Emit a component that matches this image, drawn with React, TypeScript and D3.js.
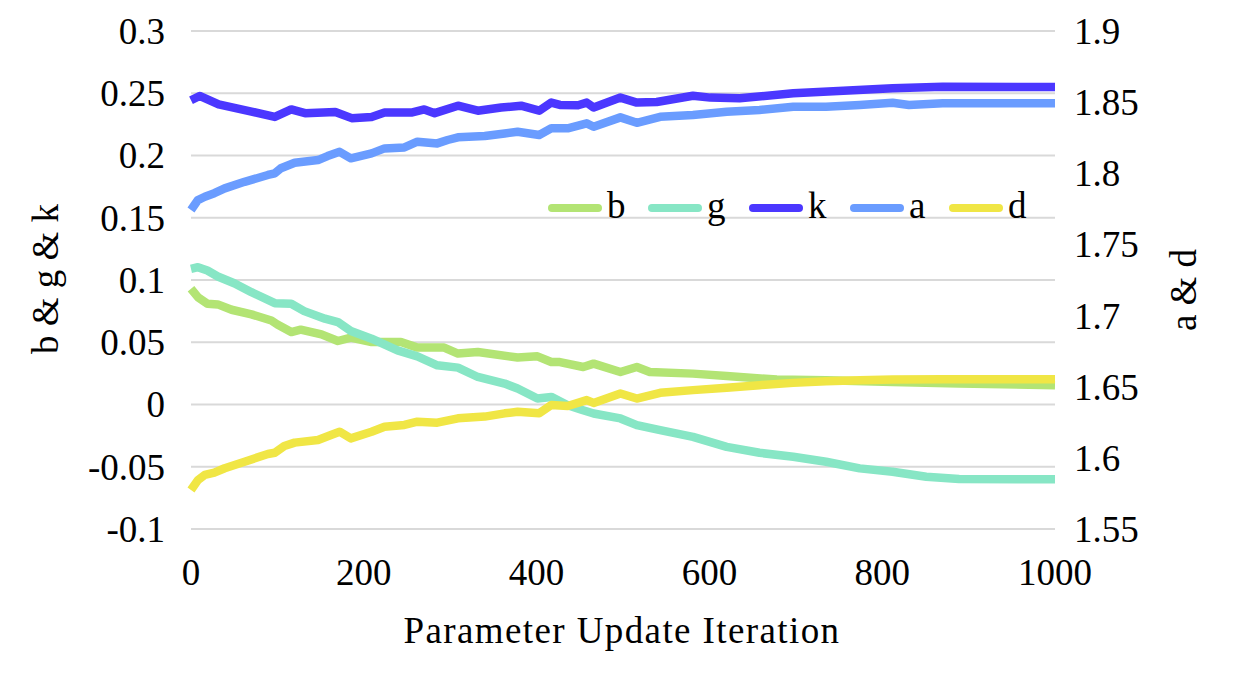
import React from "react";
import * as d3 from "d3";

const xTicks = [0, 200, 400, 600, 800, 1000];
const leftTicks = [0.3, 0.25, 0.2, 0.15, 0.1, 0.05, 0, -0.05, -0.1];
const rightTicks = [1.9, 1.85, 1.8, 1.75, 1.7, 1.65, 1.6, 1.55];

const bData: [number, number][] = [
  [0, 0.093], [8, 0.0862], [19, 0.0809], [31, 0.0804], [47, 0.0761], [70, 0.0724], [93, 0.0675],
  [100, 0.0643], [116, 0.0582], [127, 0.0601], [151, 0.0563], [170, 0.051], [185, 0.0537],
  [209, 0.0502], [243, 0.0502], [262, 0.0457], [293, 0.0457], [309, 0.0409], [332, 0.0421],
  [378, 0.0377], [401, 0.0387], [417, 0.0341], [427, 0.0341], [454, 0.0301], [466, 0.0328],
  [497, 0.0261], [516, 0.0301], [531, 0.0261], [581, 0.0248], [620, 0.0229], [678, 0.02],
  [735, 0.0195], [812, 0.0181], [889, 0.0168], [1000, 0.0155],
];

const gData: [number, number][] = [
  [0, 0.109], [8, 0.1103], [19, 0.1076], [31, 0.1028], [50, 0.0974], [70, 0.0902], [97, 0.0814],
  [116, 0.0809], [131, 0.075], [155, 0.0689], [170, 0.0662], [185, 0.059], [209, 0.0529],
  [239, 0.0435], [262, 0.0387], [285, 0.0315], [309, 0.0296], [332, 0.0221], [363, 0.0168],
  [378, 0.0128], [401, 0.0048], [417, 0.0061], [436, -0.0006], [451, -0.004], [466, -0.0072],
  [497, -0.0112], [516, -0.0166], [543, -0.0206], [581, -0.026], [620, -0.034], [658, -0.0388],
  [697, -0.042], [735, -0.046], [774, -0.0513], [812, -0.054], [851, -0.058], [889, -0.0599],
  [1000, -0.0601],
];

const kData: [number, number][] = [
  [0, 0.2444], [10, 0.2478], [32, 0.241], [70, 0.2353], [97, 0.231], [116, 0.237], [132, 0.234],
  [167, 0.235], [186, 0.23], [209, 0.231], [224, 0.2345], [255, 0.2345], [270, 0.237],
  [282, 0.234], [309, 0.24], [332, 0.236], [359, 0.2385], [382, 0.24], [403, 0.236],
  [417, 0.2425], [427, 0.2406], [448, 0.2404], [458, 0.2425], [466, 0.2385], [497, 0.2465],
  [516, 0.2425], [539, 0.243], [581, 0.248], [601, 0.2465], [635, 0.246], [697, 0.25],
  [755, 0.252], [812, 0.254], [870, 0.2553], [1000, 0.255],
];

const aData: [number, number][] = [
  [0, 1.7742], [8, 1.7812], [16, 1.7835], [27, 1.786], [39, 1.7894], [62, 1.794], [89, 1.7988],
  [97, 1.8], [104, 1.8035], [120, 1.8074], [147, 1.8093], [158, 1.8121], [172, 1.8151],
  [185, 1.8105], [209, 1.814], [224, 1.8175], [247, 1.8182], [262, 1.8222], [285, 1.821],
  [297, 1.8234], [309, 1.8253], [340, 1.8262], [363, 1.828], [378, 1.8292], [403, 1.8269],
  [417, 1.8316], [436, 1.8316], [458, 1.8351], [466, 1.8327], [497, 1.8393], [516, 1.8355],
  [543, 1.8397], [581, 1.8409], [620, 1.8433], [658, 1.8445], [697, 1.8468], [735, 1.8468],
  [774, 1.848], [812, 1.8496], [831, 1.848], [870, 1.8492], [1000, 1.8492],
];

const dData: [number, number][] = [
  [0, 1.5774], [8, 1.5844], [16, 1.588], [27, 1.5896], [39, 1.5927], [62, 1.5973], [89, 1.6027],
  [97, 1.6036], [108, 1.6083], [120, 1.6107], [147, 1.6125], [162, 1.6161], [172, 1.6184],
  [185, 1.6137], [209, 1.6184], [224, 1.6219], [247, 1.6231], [262, 1.6254], [285, 1.6247],
  [309, 1.6278], [340, 1.629], [363, 1.6313], [378, 1.6324], [403, 1.6313], [417, 1.6371],
  [436, 1.6364], [458, 1.6406], [466, 1.6386], [497, 1.6452], [516, 1.6417], [543, 1.6457],
  [581, 1.6476], [620, 1.6492], [658, 1.6511], [697, 1.6527], [735, 1.6539], [774, 1.6546],
  [812, 1.655], [870, 1.6553], [1000, 1.6553],
];

const seriesNames = ["b", "g", "k", "a", "d"];
const seriesColors = ["#B3E474", "#87E6C5", "#4B37FF", "#6A9CFF", "#F0E645"];

const W = 1233;
const H = 695;
const M = { left: 191, right: 1055, top: 31, bottom: 529 };
const FONT = "'Liberation Serif', 'Times New Roman', serif";

export default function App() {
  const x = d3.scaleLinear().domain([0, 1000]).range([M.left, M.right]);
  const yL = d3.scaleLinear().domain([-0.1, 0.3]).range([M.bottom, M.top]);
  const yR = d3.scaleLinear().domain([1.55, 1.9]).range([M.bottom, M.top]);

  const lineL = d3.line<[number, number]>().x((d) => x(d[0])).y((d) => yL(d[1]));
  const lineR = d3.line<[number, number]>().x((d) => x(d[0])).y((d) => yR(d[1]));

  const series = [
    { name: "b", data: bData, line: lineL },
    { name: "g", data: gData, line: lineL },
    { name: "k", data: kData, line: lineL },
    { name: "a", data: aData, line: lineR },
    { name: "d", data: dData, line: lineR },
  ];
  const color = d3.scaleOrdinal<string, string>().domain(seriesNames).range(seriesColors);
  const fmt = (v: number) => String(+v.toFixed(2));

  const legendStarts = [552, 652, 753, 854, 953];

  return (
    <svg
      width={W}
      height={H}
      style={{ position: "absolute", left: 0, top: 0, background: "#fff" }}
      fontFamily={FONT}
    >
      <rect x={0} y={0} width={W} height={H} fill="#fff" />
      {leftTicks.map((t) => (
        <line key={"g" + t} x1={M.left} x2={M.right} y1={yL(t)} y2={yL(t)} stroke="#d9d9d9" strokeWidth={2} />
      ))}
      {leftTicks.map((t) => (
        <text key={"l" + t} x={165} y={yL(t)} dy="0.35em" textAnchor="end" fontSize={37} fill="#000">
          {fmt(t)}
        </text>
      ))}
      {rightTicks.map((t) => (
        <text key={"r" + t} x={1074} y={yR(t)} dy="0.35em" textAnchor="start" fontSize={37} fill="#000">
          {fmt(t)}
        </text>
      ))}
      {xTicks.map((t) => (
        <text key={"x" + t} x={x(t)} y={585} textAnchor="middle" fontSize={37} fill="#000">
          {t}
        </text>
      ))}
      <text x={622} y={643} textAnchor="middle" fontSize={37} letterSpacing={1.4} fill="#000">
        Parameter Update Iteration
      </text>
      <text transform="translate(58,279) rotate(-90)" textAnchor="middle" fontSize={37} fill="#000">
        b &amp; g &amp; k
      </text>
      <text transform="translate(1196,290) rotate(-90)" textAnchor="middle" fontSize={37} fill="#000">
        a &amp; d
      </text>
      {series.map((s) => (
        <path
          key={s.name}
          d={s.line(s.data) || ""}
          fill="none"
          stroke={color(s.name)}
          strokeWidth={8.5}
          strokeLinejoin="round"
          strokeLinecap="butt"
        />
      ))}
      {seriesNames.map((n, i) => (
        <g key={"lg" + n}>
          <line
            x1={legendStarts[i]}
            x2={legendStarts[i] + 46}
            y1={208}
            y2={208}
            stroke={color(n)}
            strokeWidth={8}
            strokeLinecap="round"
          />
          <text x={legendStarts[i] + 55} y={218} fontSize={37} fill="#000">
            {n}
          </text>
        </g>
      ))}
    </svg>
  );
}
